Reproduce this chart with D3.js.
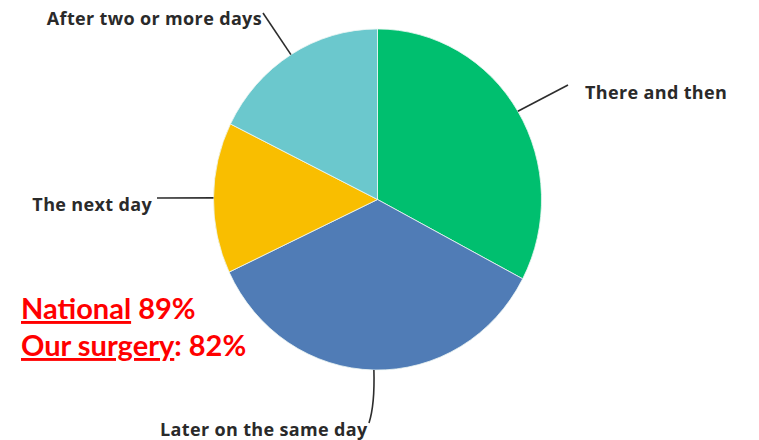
<!DOCTYPE html>
<html>
<head>
<meta charset="utf-8">
<script src="https://cdn.jsdelivr.net/npm/d3@7"></script>
<style>
  html, body { margin: 0; padding: 0; background: #fff; }
  svg { display: block; }
</style>
</head>
<body>
<svg id="chart" width="759" height="440"></svg>
<script>
// Survey answers: when the patient was seen
const categories = ["There and then", "Later on the same day", "The next day", "After two or more days"];
const shares = [32.7, 35.3, 14.3, 17.7];
const colors = ["#00BF6F", "#507CB6", "#F9BE00", "#6BC8CD"];

// Headline comparison figures
const summaryNames = ["National", "Our surgery"];
const summarySeparators = ["", ":"];
const summaryValues = ["89%", "82%"];

const svg = d3.select("#chart");
const cx = 377.5, cy = 199.5, r = 164, sy = 1.04;

const pie = d3.pie().sort(null).value(d => d.v);
const arcs = pie(categories.map((c, i) => ({ c, v: shares[i], col: colors[i] })));
const arc = d3.arc().innerRadius(0).outerRadius(r);

const g = svg.append("g").attr("transform", `translate(${cx},${cy}) scale(1,${sy})`);
g.selectAll("path")
  .data(arcs)
  .join("path")
  .attr("d", arc)
  .attr("fill", d => d.data.col)
  .attr("stroke", "#eef6f4")
  .attr("stroke-width", 0.8)
  .attr("vector-effect", "non-scaling-stroke");

// point on the rim at a slice's middle angle, in page coordinates
function rim(d) {
  const a = (d.startAngle + d.endAngle) / 2;
  return [cx + r * Math.sin(a), cy - r * sy * Math.cos(a)];
}

// leader line geometry and label placement per category
const leader = {
  "There and then":        { end: [568, 85],  text: [585, 99],  anchor: "start" },
  "Later on the same day": { end: [369, 423], text: [160, 436], anchor: "start", curve: true },
  "The next day":          { end: [157, 198], text: [152, 211], anchor: "end" },
  "After two or more days":{ end: [263, 13],  text: [262, 25],  anchor: "end" }
};

const labels = svg.append("g");
arcs.forEach(d => {
  const L = leader[d.data.c];
  const s = rim(d);
  let path;
  if (L.curve) {
    path = `M${s[0]},${s[1]} Q${s[0] + 1},${(s[1] + L.end[1]) / 2 + 8} ${L.end[0]},${L.end[1]}`;
  } else {
    path = `M${s[0]},${s[1]} L${L.end[0]},${L.end[1]}`;
  }
  labels.append("path")
    .attr("d", path)
    .attr("fill", "none")
    .attr("stroke", "#2d2d2d")
    .attr("stroke-width", 1.6);
  labels.append("text")
    .attr("x", L.text[0])
    .attr("y", L.text[1])
    .attr("text-anchor", L.anchor)
    .attr("font-family", "'Open Sans', sans-serif")
    .attr("font-weight", 700)
    .attr("font-size", 18)
    .attr("letter-spacing", 0.35)
    .attr("fill", "#2a2a2a")
    .text(d.data.c);
});

// red summary block
const summary = svg.append("g")
  .attr("font-family", "Lato, 'Open Sans', sans-serif")
  .attr("font-weight", 700)
  .attr("font-size", 29)
  .attr("fill", "#FF0000");
summaryNames.forEach((name, i) => {
  const t = summary.append("text").attr("x", 21).attr("y", 319 + i * 37);
  t.append("tspan").attr("text-decoration", "underline").text(name);
  t.append("tspan").text(summarySeparators[i] + " " + summaryValues[i]);
});
</script>
</body>
</html>
